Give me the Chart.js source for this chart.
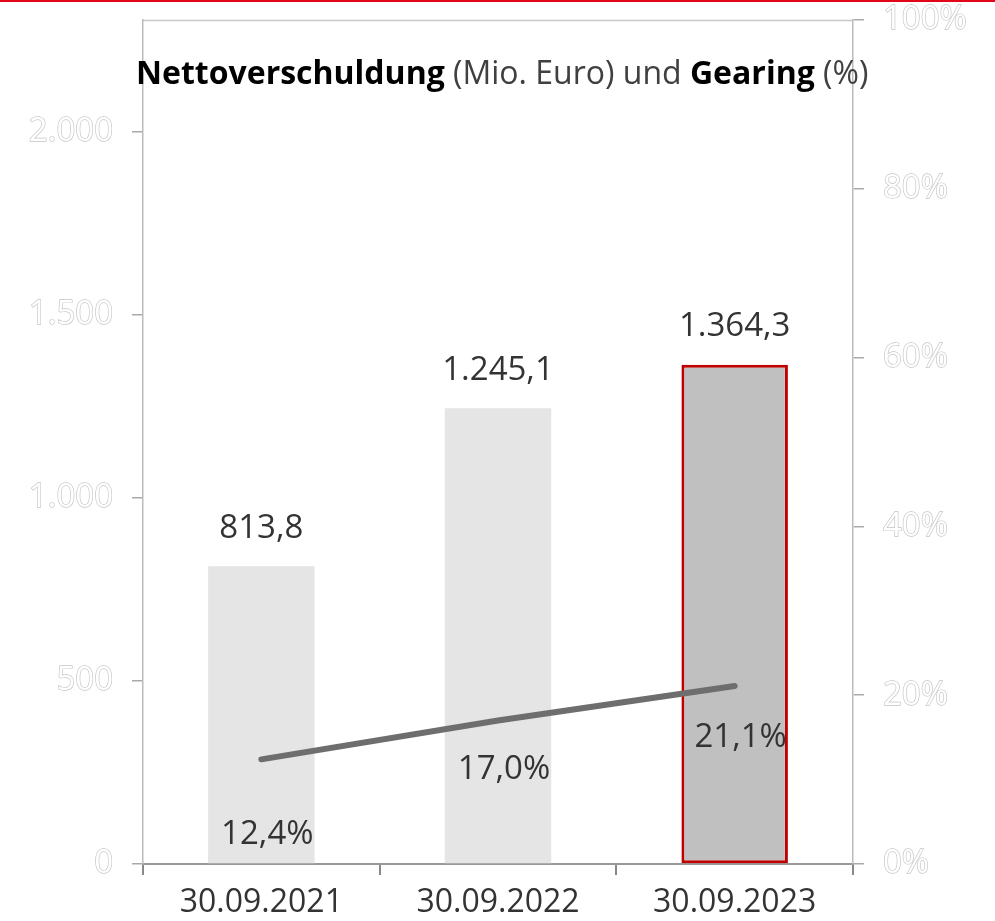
<!DOCTYPE html>
<html>
<head>
<meta charset="utf-8">
<script src="https://cdn.jsdelivr.net/npm/chart.js@4"></script>
<style>
  html, body { margin: 0; padding: 0; background: #fff; }
  #wrap { width: 995px; height: 921px; position: relative; }
</style>
</head>
<body>
<div id="wrap"><canvas id="c" width="995" height="921"></canvas></div>
<script>
// ---- data ----
const categories = ['30.09.2021', '30.09.2022', '30.09.2023'];
const netDebt = [813.8, 1245.1, 1364.3];      // Mio. Euro
const gearing = [12.4, 17.0, 21.1];            // %
const leftTicks = [0, 500, 1000, 1500, 2000];
const rightTicks = [0, 20, 40, 60, 80, 100];
const titleParts = [
  { text: 'Nettoverschuldung', bold: true },
  { text: ' (Mio. Euro) und ', bold: false },
  { text: 'Gearing', bold: true },
  { text: ' (%)', bold: false }
];

const FONT = "'Open Sans', 'Noto Sans', sans-serif";

function de(n, dec) {
  const s = n.toFixed(dec);
  let [i, f] = s.split('.');
  i = i.replace(/\B(?=(\d{3})+(?!\d))/g, '.');
  return f ? i + ',' + f : i;
}

const decoPlugin = {
  id: 'deco',
  beforeDraw(chart) {
    const { ctx, chartArea } = chart;
    ctx.save();
    ctx.fillStyle = '#e3061b';
    ctx.fillRect(0, 0, chart.width, 2);
    ctx.strokeStyle = '#c8c8c8';
    ctx.lineWidth = 1.5;
    ctx.beginPath();
    ctx.moveTo(chartArea.left, chartArea.top + 0.5);
    ctx.lineTo(chartArea.right, chartArea.top + 0.5);
    ctx.stroke();
    ctx.restore();
  },
  afterDatasetsDraw(chart) {
    const { ctx } = chart;
    ctx.save();
    // title
    ctx.textBaseline = 'alphabetic';
    ctx.textAlign = 'left';
    let x = 136;
    const y = 84;
    titleParts.forEach(p => {
      ctx.font = (p.bold ? 'bold ' : '') + '32px ' + FONT;
      ctx.fillStyle = p.bold ? '#000' : '#404040';
      ctx.fillText(p.text, x, y);
      x += ctx.measureText(p.text).width;
    });
    // bar labels
    ctx.font = '33px ' + FONT;
    ctx.fillStyle = '#333';
    ctx.textAlign = 'center';
    ctx.textBaseline = 'middle';
    const barMeta = chart.getDatasetMeta(0);
    barMeta.data.forEach((el, i) => {
      ctx.fillText(de(netDebt[i], 1), el.x, el.y - 38);
    });
    // line labels
    const lineOffsets = [75, 49, 52];
    const lineMeta = chart.getDatasetMeta(1);
    lineMeta.data.forEach((el, i) => {
      ctx.fillText(de(gearing[i], 1) + '%', el.x + 6, el.y + lineOffsets[i]);
    });
    ctx.restore();
  }
};

const hollowTicks = {
  color: '#ffffff',
  textStrokeColor: '#c4c4c4',
  textStrokeWidth: 1.3,
  font: { family: FONT, size: 33 },
  padding: 19
};

new Chart(document.getElementById('c'), {
  data: {
    labels: categories,
    datasets: [
      {
        type: 'bar',
        data: netDebt,
        yAxisID: 'y',
        backgroundColor: ['#e5e5e5', '#e5e5e5', '#c0c0c0'],
        borderColor: ['#e5e5e5', '#e5e5e5', '#c00000'],
        borderWidth: [0, 0, 3],
        borderSkipped: false,
        barPercentage: 0.45,
        categoryPercentage: 1,
        order: 2
      },
      {
        type: 'line',
        data: gearing,
        yAxisID: 'y1',
        borderColor: '#6e6e6e',
        borderWidth: 6,
        borderCapStyle: 'round',
        pointRadius: 0,
        tension: 0,
        order: 1
      }
    ]
  },
  options: {
    responsive: false,
    animation: false,
    layout: { padding: { top: 0, left: 0, right: 0, bottom: 0 } },
    plugins: { legend: { display: false }, tooltip: { enabled: false }, title: { display: false } },
    scales: {
      x: {
        offset: true,
        grid: { offset: true, drawOnChartArea: false, drawTicks: true, tickLength: 11, color: '#888', lineWidth: 2 },
        border: { display: true, color: '#999', width: 2 },
        ticks: { color: '#333', font: { family: FONT, size: 32 }, padding: 9, maxRotation: 0 },
        afterFit(s) { s.height = 57; }
      },
      y: {
        position: 'left',
        min: 0,
        max: 2306,
        afterBuildTicks(s) { s.ticks = leftTicks.map(v => ({ value: v })); },
        grid: { drawOnChartArea: false, drawTicks: true, tickLength: 11, color: '#aaa', lineWidth: 1.5 },
        border: { display: true, color: '#bbb', width: 1.5 },
        ticks: Object.assign({}, hollowTicks, { callback: v => de(v, 0) }),
        afterFit(s) { s.width = 143; s.paddingTop = 20; }
      },
      y1: {
        position: 'right',
        min: 0,
        max: 100,
        afterBuildTicks(s) { s.ticks = rightTicks.map(v => ({ value: v })); },
        grid: { drawOnChartArea: false, drawTicks: true, tickLength: 11, color: '#aaa', lineWidth: 1.5 },
        border: { display: true, color: '#bbb', width: 1.5 },
        ticks: Object.assign({}, hollowTicks, { callback: v => v + '%' }),
        afterFit(s) { s.width = 142; s.paddingTop = 20; }
      }
    }
  },
  plugins: [decoPlugin]
});
</script>
</body>
</html>
